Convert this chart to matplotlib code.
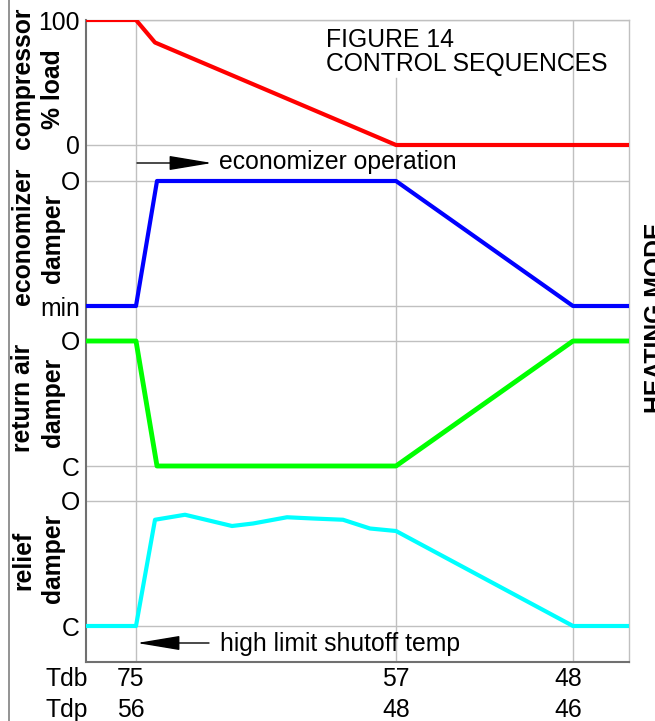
import matplotlib
matplotlib.use("Agg")
import matplotlib.pyplot as plt
import matplotlib.transforms as mtransforms
from matplotlib.lines import Line2D

plt.rcParams['font.family'] = ['Liberation Sans', 'DejaVu Sans']

# ---------------- data ----------------
tdb_labels = ["75", "57", "48"]
tdp_labels = ["56", "48", "46"]
seq_ticks = [5.0, 31.0, 48.7]          # sequence positions of the temperature marks
seq_end = 54.3

comp_x = [0, 5.0, 6.9, 31.0, 54.3]
comp_load = [100, 100, 82, 0, 0]        # % load

econ_x = [0, 5.0, 7.1, 31.0, 48.7, 54.3]
econ_pos = [0, 0, 1, 1, 0, 0]           # 0 = min, 1 = open

ret_x = [0, 5.0, 7.1, 31.0, 48.7, 54.3]
ret_pos = [1, 1, 0, 0, 1, 1]            # 0 = closed, 1 = open

relief_x = [0, 5.0, 6.9, 9.9, 14.6, 16.7, 20.1, 22.7, 25.7, 28.4, 31.0, 48.7, 54.3]
relief_pos = [0, 0, 0.85, 0.89, 0.80, 0.82, 0.87, 0.86, 0.85, 0.78, 0.76, 0, 0]

ytick_labels = ['C', 'O', 'C', 'O', 'min', 'O', '0', '100']

# ---------------- layout ----------------
FS = 17.8
fig = plt.figure(figsize=(6.55, 7.21), dpi=100)
ax = fig.add_axes([86/655, 1-662/721, 543/655, 642/721])
ax.set_xlim(0, seq_end)
ax.set_ylim(0, 642)

bands = {'comp': (517, 125), 'econ': (356, 125), 'ret': (196, 125), 'rel': (36, 125)}

def band(name, vals, scale=1.0):
    b, h = bands[name]
    return [b + h * v / scale for v in vals]

ax.plot(comp_x, band('comp', comp_load, 100), color='#ff0000', lw=3, zorder=3)
ax.plot(econ_x, band('econ', econ_pos), color='#0000ff', lw=3, zorder=3)
ax.plot(ret_x, band('ret', ret_pos), color='#00ff00', lw=3.5, zorder=3)
ax.plot(relief_x, band('rel', relief_pos), color='#00ffff', lw=3, zorder=3)

ytick_pos = []
for name in ['rel', 'ret', 'econ', 'comp']:
    b, h = bands[name]
    ytick_pos += [b, b + h]
ax.set_yticks(ytick_pos, labels=ytick_labels)
ax.grid(axis='y', color='#c0c0c0', lw=1.0, zorder=0)

for i, x in enumerate(seq_ticks):
    ymax = (662 - 78) / 642 if i == 1 else 1.0
    ax.axvline(x, ymin=0, ymax=ymax, color='#c0c0c0', lw=1.0, zorder=0)

ax.set_xticks(seq_ticks, labels=[f"{a}\n{b}" for a, b in zip(tdb_labels, tdp_labels)])
ax.tick_params(axis='both', length=0, labelsize=FS)
ax.tick_params(axis='y', pad=4.5)
ax.tick_params(axis='x', pad=3.5)
label_shift_px = [-5, 0, -5]
for lab, dx in zip(ax.get_xticklabels(), label_shift_px):
    lab.set_linespacing(1.4)
    lab.set_transform(lab.get_transform() + mtransforms.Affine2D().translate(dx, 0))

for s in ['left', 'bottom']:
    ax.spines[s].set_color('#707070')
    ax.spines[s].set_linewidth(1.5)
for s in ['top', 'right']:
    ax.spines[s].set_color('#c0c0c0')
    ax.spines[s].set_linewidth(1.0)

# Tdb / Tdp row labels (aligned with the tick label rows)
fig.canvas.draw()
bb = ax.get_xticklabels()[1].get_window_extent()
ax.text(0.2, bb.y1, "Tdb\nTdp",
        transform=mtransforms.blended_transform_factory(ax.transData, mtransforms.IdentityTransform()),
        ha='right', va='top', fontsize=FS, linespacing=1.4)

# arrows and notes
ax.annotate('', xy=(12.6, 499), xytext=(5.1, 499),
            arrowprops=dict(arrowstyle='-|>,head_length=2.7,head_width=0.45', mutation_scale=10,
                            lw=1, color='black', shrinkA=0, shrinkB=0))
ax.text(13.3, 500, "economizer operation", ha='left', va='center', fontsize=FS)
ax.annotate('', xy=(5.1, 19), xytext=(12.3, 19),
            arrowprops=dict(arrowstyle='-|>,head_length=2.7,head_width=0.45', mutation_scale=10,
                            lw=1, color='black', shrinkA=0, shrinkB=0))
ax.text(13.4, 18, "high limit shutoff temp", ha='left', va='center', fontsize=FS)

# title
ax.text(24.0, 662 - 47, "FIGURE 14", ha='left', va='baseline', fontsize=FS)
ax.text(24.0, 662 - 71, "CONTROL SEQUENCES", ha='left', va='baseline', fontsize=FS)

# left bold labels (two rotated lines each)
side_labels = [("compressor", 23, 78), ("% load", 53, 89),
               ("economizer", 23, 236), ("damper", 53, 238),
               ("return air", 23, 398), ("damper", 53, 402),
               ("relief", 23, 560), ("damper", 53, 558)]
for txt, xc, yc in side_labels:
    fig.text(xc/655, 1 - yc/721, txt, rotation=90, ha='center', va='center',
             fontsize=FS, fontweight='bold')

fig.text(644/655, 1 - 318/721, "HEATING MODE", rotation=90, ha='left', va='center',
         fontsize=FS, fontweight='bold')

fig.add_artist(Line2D([9/655, 9/655], [0, 1], transform=fig.transFigure, color='#808080', lw=1.2))

fig.savefig("out.png", dpi=100)
